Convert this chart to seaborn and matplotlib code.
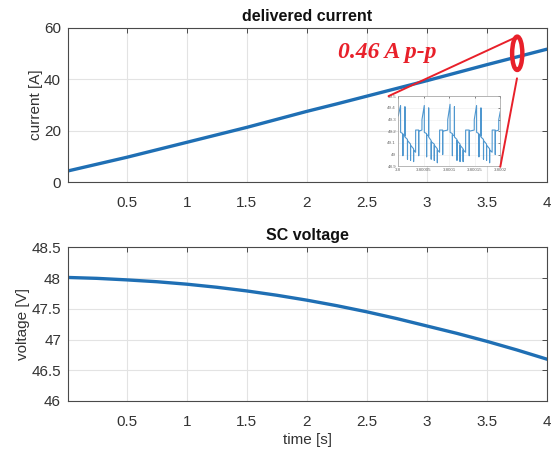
import matplotlib
matplotlib.use('Agg')
import matplotlib.pyplot as plt
import seaborn as sns
import numpy as np
from matplotlib.patches import Ellipse

# ---------------- data ----------------
time_s = [0.0, 0.25, 0.5, 0.75, 1.0, 1.25, 1.5, 1.75, 2.0,
          2.25, 2.5, 2.75, 3.0, 3.25, 3.5, 3.75, 4.0]
current_A = [4.3, 7.0, 9.7, 12.6, 15.5, 18.4, 21.3, 24.4, 27.5,
             30.4, 33.4, 36.4, 39.4, 42.5, 45.6, 48.6, 51.6]
voltage_V = [48.01, 47.995, 47.97, 47.94, 47.90, 47.85, 47.79, 47.72, 47.64,
             47.55, 47.45, 47.34, 47.22, 47.10, 46.97, 46.83, 46.68]

x_ticks = [0.5, 1, 1.5, 2, 2.5, 3, 3.5, 4]
x_ticklabels = ['0.5', '1', '1.5', '2', '2.5', '3', '3.5', '4']
cur_ticks = [0, 20, 40, 60]
volt_ticks = [46, 46.5, 47, 47.5, 48, 48.5]
volt_ticklabels = ['46', '46.5', '47', '47.5', '48', '48.5']

# zoomed ripple (microseconds after t = 3.8 s)
inset_us = [
    0.0, 4.5, 4.6, 9.0, 9.1, 9.2, 13.0, 13.1, 13.2, 18.0, 18.1, 18.2,
    24.0, 24.1, 24.2, 30.0, 30.1, 30.2, 34.0, 34.1, 40.0, 40.1, 40.2, 46.4,
    46.5, 51.0, 51.1, 55.5, 55.6, 55.7, 59.5, 59.6, 59.7, 64.5, 64.6, 64.7,
    70.5, 70.6, 70.7, 76.5, 76.6, 76.7, 81.0, 81.1, 87.0, 87.1, 87.2, 96.9,
    97.0, 101.5, 101.6, 106.0, 106.1, 106.2, 110.0, 110.1, 110.2, 115.0, 115.1, 115.2,
    121.0, 121.1, 121.2, 127.0, 127.1, 127.2, 132.0, 132.1, 139.0, 139.1, 139.2, 148.9,
    149.0, 153.5, 153.6, 158.0, 158.1, 158.2, 162.0, 162.1, 162.2, 167.0, 167.1, 167.2,
    173.0, 173.1, 173.2, 179.0, 179.1, 179.2, 184.0, 184.1, 190.0, 190.1, 190.2, 196.9,
    197.0, 200.0]
inset_A = [
    49.33, 49.42, 49.19, 49.18, 48.99, 49.17, 49.16, 49.41, 49.15, 49.13, 48.96, 49.12,
    49.09, 48.95, 49.08, 49.05, 48.94, 49.04, 49.02, 49.21, 49.21, 48.99, 49.20, 49.21,
    49.30, 49.42, 49.19, 49.18, 48.98, 49.17, 49.16, 49.40, 49.15, 49.12, 48.96, 49.11,
    49.09, 48.95, 49.08, 49.05, 48.93, 49.04, 49.02, 49.21, 49.21, 49.00, 49.20, 49.21,
    49.30, 49.43, 49.19, 49.18, 48.99, 49.17, 49.16, 49.41, 49.15, 49.13, 48.95, 49.12,
    49.09, 48.94, 49.08, 49.05, 48.94, 49.04, 49.02, 49.21, 49.21, 48.99, 49.20, 49.21,
    49.30, 49.42, 49.19, 49.18, 48.98, 49.17, 49.16, 49.40, 49.15, 49.13, 48.96, 49.12,
    49.09, 48.95, 49.08, 49.05, 48.93, 49.04, 49.02, 49.21, 49.21, 49.00, 49.20, 49.21,
    49.30, 49.37]
inset_xticks = [3.8, 3.80005, 3.8001, 3.80015, 3.8002]
inset_xticklabels = ['3.8', '3.80005', '3.8001', '3.80015', '3.8002']
inset_yticks = [48.9, 49.0, 49.1, 49.2, 49.3, 49.4, 49.5]
inset_yticklabels = ['48.9', '49', '49.1', '49.2', '49.3', '49.4', '49.5']

annotation_text = '0.46 A p-p'

# ---------------- style ----------------
sns.set_style('white')
plt.rcParams['font.family'] = ['Liberation Sans', 'DejaVu Sans']

BLUE = '#1f6fb4'
RED = '#e8202a'
FRAME = '#4a4a4a'
TXT = '#333333'
GRID = '#e3e3e3'

fig = plt.figure(figsize=(5.52, 4.5), dpi=100)
ax1 = fig.add_axes([68 / 552, 1 - 182.3 / 450, 479 / 552, 154.8 / 450])
ax2 = fig.add_axes([68 / 552, 1 - 401.0 / 450, 479 / 552, 153.7 / 450])


def style_axes(ax):
    for s in ax.spines.values():
        s.set_color(FRAME)
        s.set_linewidth(0.8)
        s.set_visible(True)
    ax.grid(True, color=GRID, linewidth=0.8)
    ax.set_axisbelow(True)
    ax.tick_params(direction='in', length=3.5, width=0.7, color=FRAME,
                   top=True, right=True, labelsize=11, labelcolor=TXT)
    ax.tick_params(axis='x', pad=10)
    ax.tick_params(axis='y', pad=5)


# top: delivered current
sns.lineplot(x=time_s, y=current_A, ax=ax1, color=BLUE, linewidth=2.4)
ax1.set_xlim(0.01, 4)
ax1.set_ylim(0, 60)
ax1.set_xticks(x_ticks)
ax1.set_xticklabels(x_ticklabels)
ax1.set_yticks(cur_ticks)
style_axes(ax1)
ax1.set_title('delivered current', fontsize=11.5, fontweight='bold', color='#111111', pad=5)
ax1.set_ylabel('current [A]', fontsize=11, color=TXT, labelpad=1)
ax1.set_xlabel('')

# bottom: SC voltage
sns.lineplot(x=time_s, y=voltage_V, ax=ax2, color=BLUE, linewidth=2.4)
ax2.set_xlim(0.01, 4)
ax2.set_ylim(46, 48.5)
ax2.set_xticks(x_ticks)
ax2.set_xticklabels(x_ticklabels)
ax2.set_yticks(volt_ticks)
ax2.set_yticklabels(volt_ticklabels)
style_axes(ax2)
ax2.set_title('SC voltage', fontsize=11.5, fontweight='bold', color='#111111', pad=5)
ax2.set_ylabel('voltage [V]', fontsize=11, color=TXT, labelpad=1)
ax2.set_xlabel('time [s]', fontsize=11, color=TXT, labelpad=3)

# inset with ripple
axins = ax1.inset_axes([2.761, 6.2, 0.85, 27.2], transform=ax1.transData)
inset_t = [3.8 + u * 1e-6 for u in inset_us]
sns.lineplot(x=inset_t, y=inset_A, ax=axins, color='#4f97cf', linewidth=0.8,
             sort=False, estimator=None)
axins.set_xlim(3.8, 3.8002)
axins.set_ylim(48.9, 49.5)
axins.set_xticks(inset_xticks)
axins.set_xticklabels(inset_xticklabels)
axins.set_yticks(inset_yticks)
axins.set_yticklabels(inset_yticklabels)
axins.set_facecolor('white')
for s in axins.spines.values():
    s.set_color('#9a9a9a')
    s.set_linewidth(0.5)
axins.grid(True, color='#ececec', linewidth=0.4)
axins.tick_params(direction='in', length=1.2, width=0.4, labelsize=3.2,
                  labelcolor='#666666', pad=1.5, top=True, right=True)
axins.set_xlabel('')
axins.set_ylabel('')

# red annotation
ax1.plot([3.722, 2.68], [55.8, 33.4], color=RED, linewidth=1.4, clip_on=False, zorder=6)
ax1.plot([3.75, 3.611], [40.3, 6.0], color=RED, linewidth=1.4, clip_on=False, zorder=6)
ax1.add_patch(Ellipse((3.752, 50.0), 0.085, 12.9, fill=False, edgecolor=RED,
                      linewidth=3.2, zorder=7))
ax1.text(2.26, 50.3, annotation_text, color=RED, fontsize=17, fontweight='bold',
         fontstyle='italic', family=['Liberation Serif', 'DejaVu Serif'],
         ha='left', va='center', zorder=8)

fig.savefig('out.png', dpi=100)
